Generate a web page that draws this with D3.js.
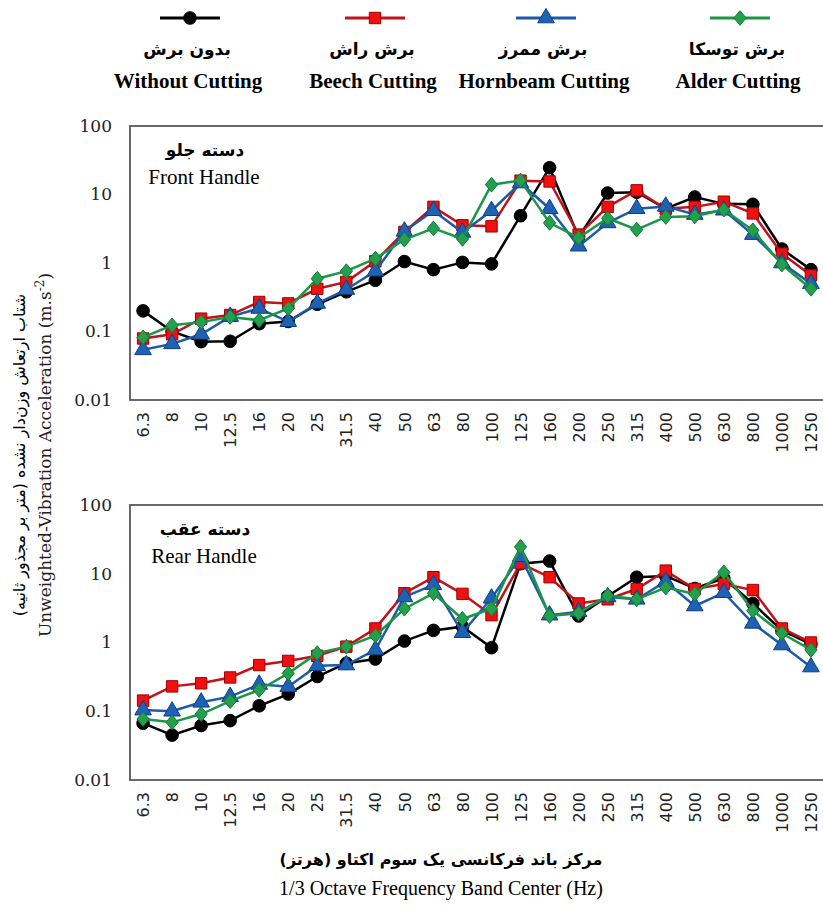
<!DOCTYPE html>
<html>
<head>
<meta charset="utf-8">
<script src="https://cdn.jsdelivr.net/npm/d3@7"></script>
<style>
  body { margin: 0; background: #fff; }
  svg { display: block; }
</style>
</head>
<body>
<div id="chart"></div>
<script>
// 1/3 octave band centres (Hz)
var bands = ["6.3","8","10","12.5","16","20","25","31.5","40","50","63","80","100","125","160","200","250","315","400","500","630","800","1000","1250"];

var seriesNamesFa = ["بدون برش", "برش راش", "برش ممرز", "برش توسکا"];
var seriesNamesEn = ["Without Cutting", "Beech Cutting", "Hornbeam Cutting", "Alder Cutting"];

var yTicks = [0.01, 0.1, 1, 10, 100];
var yTickLabels = ["0.01", "0.1", "1", "10", "100"];

// front handle (m/s2)
var frontWithout  = [0.20, 0.10, 0.071, 0.072, 0.13, 0.14, 0.25, 0.38, 0.56, 1.05, 0.80, 1.02, 0.97, 4.9, 24.6, 2.4, 10.5, 10.8, 6.2, 9.2, 7.3, 7.2, 1.6, 0.8];
var frontBeech    = [0.079, 0.091, 0.154, 0.174, 0.27, 0.257, 0.42, 0.53, 1.06, 2.84, 6.6, 3.55, 3.43, 15.9, 15.5, 2.6, 6.6, 11.5, 6.2, 6.6, 7.85, 5.3, 1.37, 0.66];
var frontHornbeam = [0.054, 0.066, 0.091, 0.165, 0.217, 0.139, 0.257, 0.41, 0.76, 2.9, 5.8, 2.8, 5.8, 14.7, 6.2, 1.76, 3.85, 6.2, 6.7, 5.1, 5.9, 2.6, 1.0, 0.5];
var frontAlder    = [0.082, 0.123, 0.137, 0.163, 0.146, 0.217, 0.59, 0.76, 1.16, 2.2, 3.2, 2.25, 13.9, 16, 3.85, 2.33, 4.5, 3.07, 4.7, 4.8, 6.0, 3.0, 0.95, 0.42];

// rear handle (m/s2)
var rearWithout  = [0.067, 0.045, 0.062, 0.073, 0.12, 0.178, 0.32, 0.50, 0.575, 1.05, 1.5, 1.7, 0.84, 14, 15.3, 2.43, 4.7, 8.9, 9.3, 6.1, 8.6, 3.7, 1.5, 0.95];
var rearBeech    = [0.143, 0.23, 0.255, 0.31, 0.47, 0.54, 0.64, 0.87, 1.6, 5.2, 8.9, 5.1, 2.5, 14.2, 8.9, 3.7, 4.25, 6.0, 11.1, 6.0, 7.1, 5.8, 1.6, 1.0];
var rearHornbeam = [0.104, 0.10, 0.135, 0.163, 0.246, 0.228, 0.46, 0.47, 0.78, 4.6, 6.9, 1.39, 4.4, 17.7, 2.5, 2.8, 4.6, 4.25, 7.7, 3.4, 5.3, 1.9, 0.92, 0.44];
var rearAlder    = [0.077, 0.069, 0.091, 0.14, 0.204, 0.356, 0.70, 0.87, 1.26, 3.1, 5.2, 2.2, 3.1, 24.7, 2.43, 2.66, 4.8, 4.25, 6.3, 5.1, 10.5, 2.9, 1.36, 0.78];

var width = 823,
    height = 906;

// squarer diamond than d3.symbolDiamond
var diamond = {
  draw: function(context, size) {
    var w = Math.sqrt(size / 2.4), h = w * 1.2;
    context.moveTo(0, -h);
    context.lineTo(w, 0);
    context.lineTo(0, h);
    context.lineTo(-w, 0);
    context.closePath();
  }
};

var lineColors = ["#000000", "#c0121c", "#1d5aa8", "#1b9646"];
var fillColors = ["#000000", "#f01010", "#1f62b4", "#22a04e"];
var strokeColors = ["#000000", "#a00000", "#0d3f80", "#137a36"];
var symbols = [d3.symbolCircle, d3.symbolSquare, d3.symbolTriangle, diamond];
var symbolSizes = [125, 130, 120, 90];

var serif = "'Liberation Serif', 'Times New Roman', serif";
var arabic = "'DejaVu Sans', sans-serif";

var svg = d3.select("#chart")
  .append("svg")
    .attr("width", width)
    .attr("height", height);

// x scale shared by both panels
var plotLeft = 130, plotRight = 824;
var x = d3.scalePoint()
  .domain(bands)
  .range([plotLeft, plotRight])
  .padding(0.45);

function drawPanel(top, bottom, data, titleFa, titleEn) {
  var y = d3.scaleLog()
    .domain([0.01, 100])
    .range([bottom, top]);

  var g = svg.append("g");

  // frame
  g.append("rect")
    .attr("x", plotLeft)
    .attr("y", top)
    .attr("width", plotRight - plotLeft)
    .attr("height", bottom - top)
    .attr("fill", "none")
    .attr("stroke", "#5a5a5a")
    .attr("stroke-width", 1.8);

  // y axis
  var yAxis = g.append("g")
    .attr("transform", "translate(" + plotLeft + ",0)")
    .call(d3.axisLeft(y)
      .tickValues(yTicks)
      .tickFormat(function(d, i) { return yTickLabels[i]; })
      .tickSize(0)
      .tickPadding(18));
  yAxis.select(".domain").remove();
  yAxis.selectAll("text")
    .style("font-family", "'DejaVu Serif', serif")
    .style("font-size", "17px")
    .attr("fill", "#222");

  // x axis
  var xAxis = g.append("g")
    .attr("transform", "translate(0," + bottom + ")")
    .call(d3.axisBottom(x).tickSize(0));
  xAxis.select(".domain").remove();
  xAxis.selectAll("text")
    .style("font-family", "'DejaVu Sans', sans-serif")
    .style("font-size", "16px")
    .attr("fill", "#222")
    .attr("text-anchor", "end")
    .attr("transform", "rotate(-90)")
    .attr("x", -12)
    .attr("y", 0)
    .attr("dy", "0.35em");

  // panel title
  g.append("text")
    .attr("x", 205)
    .attr("y", top + 30)
    .attr("text-anchor", "middle")
    .style("font-family", arabic)
    .style("font-weight", "bold")
    .style("font-size", "17px")
    .text(titleFa);
  g.append("text")
    .attr("x", 204)
    .attr("y", top + 58)
    .attr("text-anchor", "middle")
    .style("font-family", serif)
    .style("font-size", "21px")
    .text(titleEn);

  var line = d3.line()
    .x(function(d, i) { return x(bands[i]); })
    .y(function(d) { return y(d); });

  data.forEach(function(values, s) {
    g.append("path")
      .datum(values)
      .attr("d", line)
      .attr("fill", "none")
      .attr("stroke", lineColors[s])
      .attr("stroke-width", 2.5);

    g.selectAll(".pt" + s)
      .data(values)
      .enter()
      .append("path")
      .attr("class", "pt" + s)
      .attr("transform", function(d, i) {
        return "translate(" + x(bands[i]) + "," + y(d) + ")";
      })
      .attr("d", d3.symbol().type(symbols[s]).size(symbolSizes[s]))
      .attr("fill", fillColors[s])
      .attr("stroke", strokeColors[s])
      .attr("stroke-width", 1);
  });
}

drawPanel(126, 400, [frontWithout, frontBeech, frontHornbeam, frontAlder], "دسته جلو", "Front Handle");
drawPanel(505, 780, [rearWithout, rearBeech, rearHornbeam, rearAlder], "دسته عقب", "Rear Handle");

// legend
var legendX = [190, 375, 546, 740];
var legend = svg.selectAll(".legend")
  .data(seriesNamesEn)
  .enter()
  .append("g")
  .attr("class", "legend")
  .attr("transform", function(d, i) { return "translate(" + legendX[i] + ",0)"; });

legend.append("line")
  .attr("x1", -30).attr("x2", 30)
  .attr("y1", 18).attr("y2", 18)
  .attr("stroke", function(d, i) { return lineColors[i]; })
  .attr("stroke-width", 3);
legend.append("path")
  .attr("transform", "translate(0,18)")
  .attr("d", function(d, i) { return d3.symbol().type(symbols[i]).size(symbolSizes[i])(); })
  .attr("fill", function(d, i) { return fillColors[i]; })
  .attr("stroke", function(d, i) { return strokeColors[i]; });
legend.append("text")
  .attr("x", -3)
  .attr("y", 55)
  .attr("text-anchor", "middle")
  .style("font-family", arabic)
  .style("font-weight", "bold")
  .style("font-size", "17px")
  .text(function(d, i) { return seriesNamesFa[i]; });
legend.append("text")
  .attr("x", -2)
  .attr("y", 88)
  .attr("text-anchor", "middle")
  .style("font-family", serif)
  .style("font-weight", "bold")
  .style("font-size", "21px")
  .text(function(d) { return d; });

// y axis title
var yTitle = svg.append("g")
  .attr("transform", "translate(0,455) rotate(-90)");
yTitle.append("text")
  .attr("x", 0)
  .attr("y", 25)
  .attr("text-anchor", "middle")
  .style("font-family", arabic)
  .style("font-size", "16px")
  .text("شتاب ارتعاش وزن‌دار نشده (متر بر مجذور ثانیه)");
var yEn = yTitle.append("text")
  .attr("x", 0)
  .attr("y", 51)
  .attr("text-anchor", "middle")
  .style("font-family", "'DejaVu Serif', serif")
  .style("font-size", "17px")
  .attr("fill", "#222");
yEn.append("tspan").text("Unweighted-Vibration Acceleration (m.s");
yEn.append("tspan").attr("baseline-shift", "super").style("font-size", "12px").text("-2");
yEn.append("tspan").text(")");

// x axis title
svg.append("text")
  .attr("x", 441)
  .attr("y", 865)
  .attr("text-anchor", "middle")
  .style("font-family", arabic)
  .style("font-weight", "bold")
  .style("font-size", "16px")
  .text("مرکز باند فرکانسی یک سوم اکتاو (هرتز)");
svg.append("text")
  .attr("x", 441)
  .attr("y", 895)
  .attr("text-anchor", "middle")
  .style("font-family", serif)
  .style("font-size", "20px")
  .text("1/3 Octave Frequency Band Center (Hz)");
</script>
</body>
</html>
